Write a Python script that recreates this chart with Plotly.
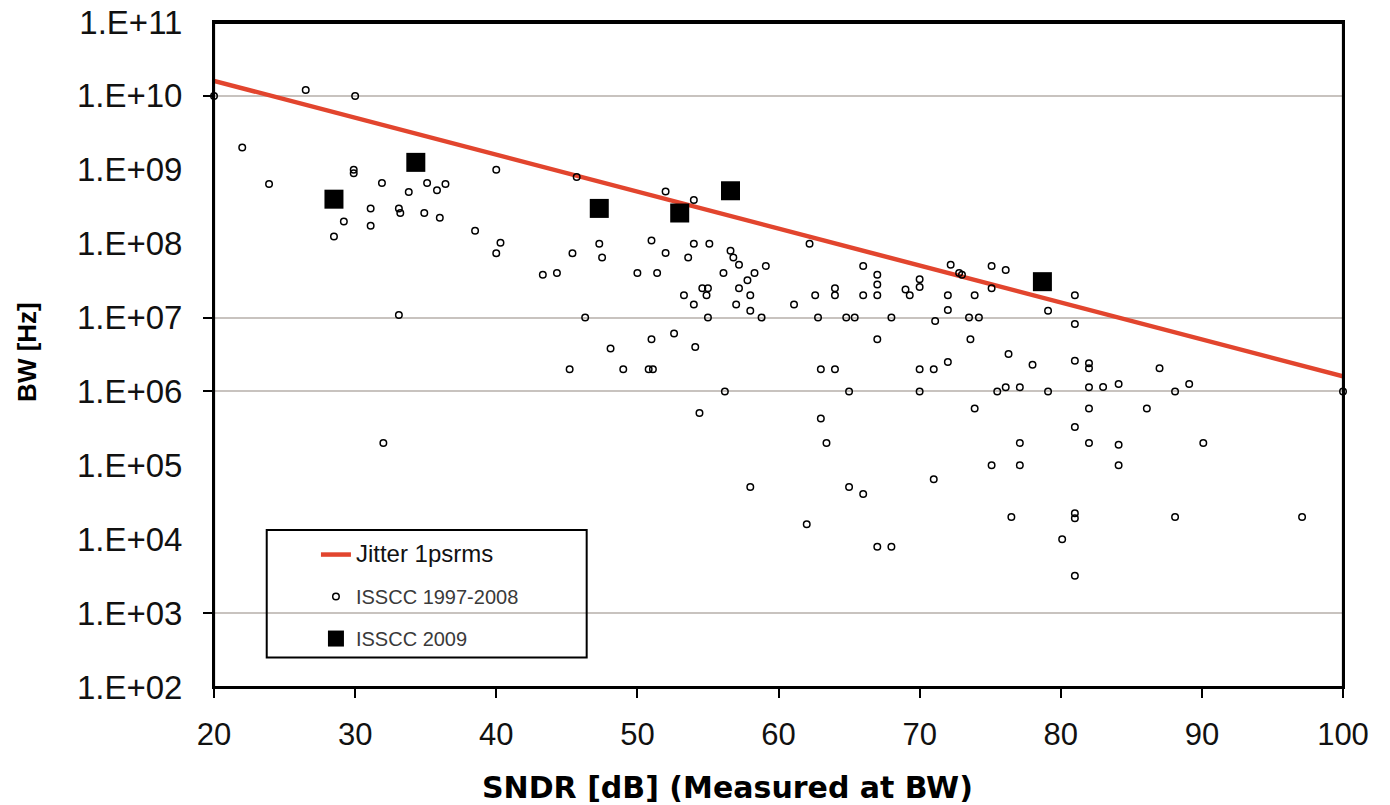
import plotly.graph_objects as go

# ---------------- data ----------------
# ISSCC 1997-2008 designs: SNDR [dB] and BW [Hz]
old_sndr = [20.0, 26.5, 30.0, 22.0, 23.9, 29.9, 29.9, 31.9, 33.8, 35.1, 35.8, 36.4, 40.0,
            31.1, 33.1, 33.2, 34.9, 36.0, 29.2, 31.1, 28.5, 38.5, 40.3, 40.0, 45.4, 47.3,
            45.7, 52.0, 54.0, 62.2, 51.0, 52.0, 54.0, 55.1, 56.6, 47.5, 53.6, 56.8, 43.3,
            44.3, 33.1, 46.3, 45.2, 32.0, 50.0, 51.4, 56.1, 57.2, 59.1, 58.3, 57.8, 57.2,
            54.6, 55.0, 53.3, 54.9, 58.0, 54.0, 57.0, 61.1, 58.0, 58.8, 55.0, 62.6, 64.0,
            64.0, 66.0, 66.0, 67.0, 67.0, 67.0, 69.0, 69.3, 70.0, 70.0, 72.2, 72.8, 72.0,
            73.9, 72.0, 62.8, 64.8, 65.4, 68.0, 71.1, 73.5, 74.2, 48.1, 51.0, 52.6, 54.1,
            49.0, 50.8, 51.1, 63.0, 64.0, 67.0, 70.0, 71.0, 72.0, 73.6, 56.2, 65.0, 70.0,
            73.9, 54.4, 63.0, 63.4, 71.0, 73.0, 75.1, 76.1, 75.1, 81.0, 79.1, 81.0, 76.3,
            78.0, 81.0, 82.0, 82.0, 87.0, 75.5, 76.1, 77.1, 79.1, 82.0, 83.0, 84.1, 88.1,
            89.1, 100.0, 82.0, 86.1, 81.0, 77.1, 82.0, 84.1, 90.1, 75.1, 77.1, 84.1, 58.0,
            62.0, 65.0, 66.0, 67.0, 68.0, 76.5, 81.0, 81.0, 88.1, 97.1, 80.1, 81.0]
old_bw = [1.0e10, 1.2e10, 1.0e10, 2.0e9, 6.4e8, 1.0e9, 9.0e8, 6.6e8, 5.0e8, 6.6e8, 5.3e8, 6.4e8, 1.0e9,
          3.0e8, 3.0e8, 2.6e8, 2.6e8, 2.25e8, 2.0e8, 1.75e8, 1.25e8, 1.5e8, 1.03e8, 7.4e7, 7.4e7, 1.0e8,
          8.0e8, 5.1e8, 3.9e8, 1.0e8, 1.1e8, 7.5e7, 1.0e8, 1.0e8, 8.0e7, 6.5e7, 6.5e7, 6.5e7, 3.8e7,
          4.0e7, 1.08e7, 1.0e7, 2.0e6, 2.0e5, 4.0e7, 4.0e7, 4.0e7, 5.2e7, 5.0e7, 4.0e7, 3.2e7, 2.5e7,
          2.5e7, 2.5e7, 2.0e7, 2.0e7, 2.0e7, 1.5e7, 1.5e7, 1.5e7, 1.24e7, 1.0e7, 1.0e7, 2.0e7, 2.5e7,
          2.0e7, 5.0e7, 2.0e7, 3.8e7, 2.8e7, 2.0e7, 2.4e7, 2.0e7, 3.3e7, 2.6e7, 5.2e7, 4.0e7, 2.0e7,
          2.0e7, 1.27e7, 1.0e7, 1.0e7, 1.0e7, 1.0e7, 9.0e6, 1.0e7, 1.0e7, 3.8e6, 5.1e6, 6.1e6, 4.0e6,
          2.0e6, 2.0e6, 2.0e6, 2.0e6, 2.0e6, 5.1e6, 2.0e6, 2.0e6, 2.5e6, 5.1e6, 1.0e6, 1.0e6, 1.0e6,
          5.9e5, 5.1e5, 4.3e5, 2.0e5, 6.5e4, 3.8e7, 5.0e7, 4.4e7, 2.5e7, 2.0e7, 1.24e7, 8.2e6, 3.2e6,
          2.3e6, 2.6e6, 2.4e6, 2.06e6, 2.06e6, 1.0e6, 1.14e6, 1.14e6, 1.0e6, 1.14e6, 1.15e6, 1.26e6, 1.0e6,
          1.26e6, 1.0e6, 5.9e5, 5.9e5, 3.3e5, 2.0e5, 2.0e5, 1.9e5, 2.0e5, 1.0e5, 1.0e5, 1.0e5, 5.1e4,
          1.6e4, 5.1e4, 4.1e4, 7.9e3, 7.9e3, 2.0e4, 2.25e4, 1.92e4, 2.0e4, 2.0e4, 1.0e4, 3.2e3]

# ISSCC 2009 designs
new_sndr = [28.5, 34.3, 47.3, 53.0, 56.6, 78.7]
new_bw = [4.0e8, 1.26e9, 3.0e8, 2.6e8, 5.2e8, 3.06e7]

# Jitter 1 ps rms limit line (end points)
jitter_sndr = [20, 100]
jitter_bw = [1.6e10, 1.6e6]

# axes
x_ticks = [20, 30, 40, 50, 60, 70, 80, 90, 100]
y_ticks = [1e2, 1e3, 1e4, 1e5, 1e6, 1e7, 1e8, 1e9, 1e10, 1e11]
y_tick_labels = ["1.E+02", "1.E+03", "1.E+04", "1.E+05", "1.E+06",
                 "1.E+07", "1.E+08", "1.E+09", "1.E+10", "1.E+11"]
y_grid_values = [1e3, 1e6, 1e7, 1e10]

FONT = "Liberation Sans, Arial, sans-serif"

fig = go.Figure()
fig.add_trace(go.Scatter(
    x=jitter_sndr, y=jitter_bw, mode="lines",
    name="<span style='font-size:24px;color:#111'>Jitter 1psrms</span>",
    line=dict(color="#E2452E", width=4.5), legendgroup="a"))
fig.add_trace(go.Scatter(
    x=old_sndr, y=old_bw, mode="markers", cliponaxis=False,
    name="<span style='color:#3a3a3a'>ISSCC 1997-2008</span>",
    marker=dict(symbol="circle-open", size=6.5, color="black", line=dict(width=1.5, color="black")),
    legendgroup="b"))
fig.add_trace(go.Scatter(
    x=new_sndr, y=new_bw, mode="markers", cliponaxis=False,
    name="<span style='color:#3a3a3a'>ISSCC 2009</span>",
    marker=dict(symbol="square", size=19, color="black"),
    legendgroup="c"))
# carrier for the gridline / tick axis
fig.add_trace(go.Scatter(x=[], y=[], yaxis="y2", showlegend=False, hoverinfo="skip"))

# the page body adds an 8 px margin; figure size and margins compensate for it
fig.update_layout(
    width=1382, height=797, autosize=False,
    margin=dict(l=206, r=47, t=14, b=118, autoexpand=False),
    paper_bgcolor="white", plot_bgcolor="white",
    font=dict(family=FONT, color="black"),
    showlegend=True,
    legend=dict(x=0.0903, y=0.2285, xanchor="left", yanchor="top",
                bgcolor="rgba(0,0,0,0)", borderwidth=0,
                font=dict(family=FONT, size=20, color="black"),
                tracegroupgap=13, itemsizing="trace"),
    xaxis=dict(range=[20, 100], tickvals=x_ticks, ticks="outside", ticklen=9, tickwidth=2,
               tickcolor="black", showline=True, linecolor="black", linewidth=2, mirror=True,
               showgrid=False, zeroline=False, tickfont=dict(size=31, color="#111"),
               ticklabelstandoff=10, automargin=False, ticklabeloverflow="allow"),
    yaxis=dict(type="log", range=[2, 11], tickvals=y_ticks, ticktext=y_tick_labels,
               ticks="outside", ticklen=10, tickcolor="rgba(0,0,0,0)",
               showline=True, linecolor="black", linewidth=2, mirror=True,
               showgrid=False, zeroline=False, tickfont=dict(size=33, color="#111"),
               ticklabelstandoff=13, automargin=False, ticklabeloverflow="allow"),
    yaxis2=dict(type="log", range=[2, 11], overlaying="y", side="left", anchor="x",
                tickvals=y_grid_values, ticks="outside", ticklen=10, tickwidth=2,
                tickcolor="black", showticklabels=False, showgrid=True,
                gridcolor="#c8c3bf", gridwidth=1.6, showline=False, zeroline=False,
                automargin=False),
    shapes=[
        # legend frame
        dict(type="rect", xref="paper", yref="paper",
             x0=0.0467, x1=0.3301, y0=0.0445, y1=0.2361,
             line=dict(color="black", width=2), fillcolor="rgba(0,0,0,0)", layer="above"),
        # plot frame
        dict(type="rect", xref="paper", yref="paper", x0=0, x1=1, y0=0, y1=0.9985,
             line=dict(color="black", width=2.2), fillcolor="rgba(0,0,0,0)", layer="above"),
    ],
    annotations=[
        dict(text="<b>SNDR [dB] (Measured at BW)</b>", xref="paper", yref="paper",
             x=0.4544, y=-0.151, xanchor="center", yanchor="middle", showarrow=False,
             font=dict(family="DejaVu Sans, sans-serif", size=30, color="black")),
        dict(text="<b>BW [Hz]</b>", xref="paper", yref="paper", textangle=-90,
             x=-0.1656, y=0.504, xanchor="center", yanchor="middle", showarrow=False,
             font=dict(family=FONT, size=26, color="black")),
    ],
)

fig.write_html("out.html")
